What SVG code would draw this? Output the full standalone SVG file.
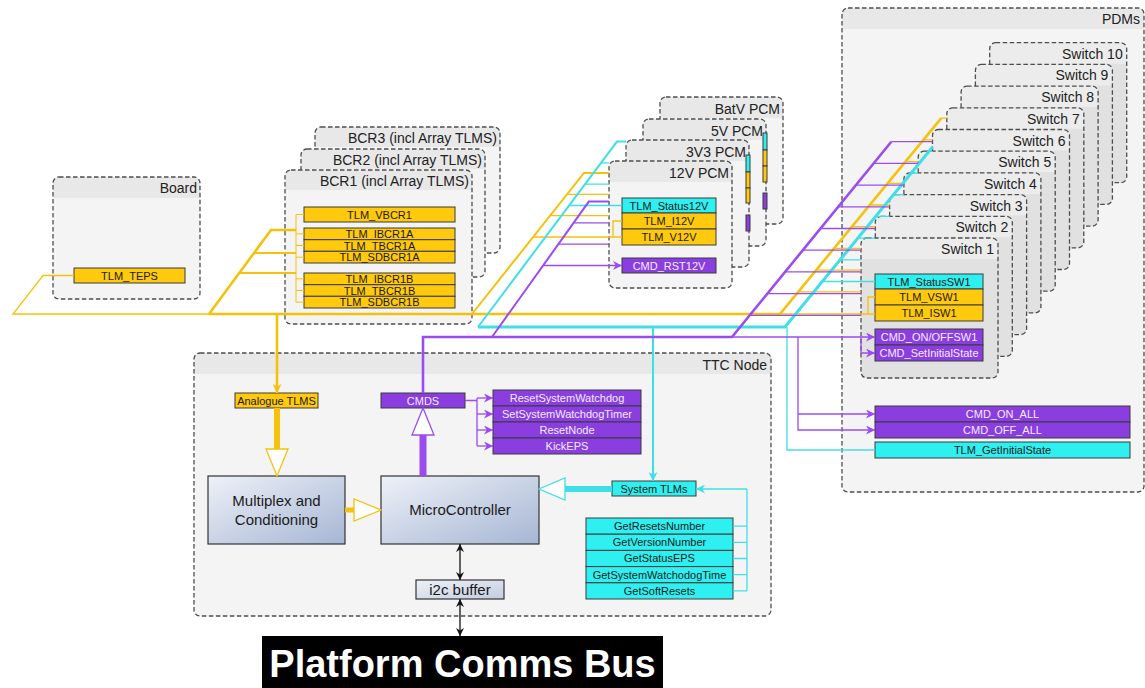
<svg xmlns="http://www.w3.org/2000/svg" width="1145" height="688" viewBox="0 0 1145 688">
<defs>
<style>
.ctr{fill:#f4f4f4}
.sw{fill:#e1e1e1}
.hd{fill:#e8e8e8}
.swh{fill:#ececec}
.ol{fill:none;stroke:#4d4d4d;stroke-width:1.3;stroke-dasharray:4.5 2.5}
.ttl{font-family:"Liberation Sans",Arial,sans-serif;font-size:14px;fill:#222;text-anchor:end}
.by{fill:#ffc90e;stroke:#3a3a3a;stroke-width:1}
.bc{fill:#2ef0f0;stroke:#3a3a3a;stroke-width:1}
.bp{fill:#8a3ee0;stroke:#3a3a3a;stroke-width:1}
.t{font-family:"Liberation Sans",Arial,sans-serif;font-size:11px;fill:#1a1a1a;text-anchor:middle}
.tw{fill:#f4ecff}
.blk{stroke:#333;stroke-width:1.2}
.lg{font-family:"Liberation Sans",Arial,sans-serif;font-size:15px;fill:#1a1a1a;text-anchor:middle}
.ly{fill:none;stroke:#f4c20d}
.lc{fill:none;stroke:#3fdfe8}
.lp{fill:none;stroke:#9a4cf0}
.lk{fill:none;stroke:#111;stroke-width:1.3}
.th{stroke-width:2.6}
.tn{stroke-width:1.3}
.hol{fill:#ffffff;stroke-width:1.3}
</style>
<marker id="ay" viewBox="0 0 10 10" refX="10" refY="5" markerWidth="9" markerHeight="9" markerUnits="userSpaceOnUse" orient="auto"><path d="M0,0 L10,5 L0,10 L3,5 z" fill="#f4c20d"/></marker>
<marker id="ac" viewBox="0 0 10 10" refX="10" refY="5" markerWidth="9" markerHeight="9" markerUnits="userSpaceOnUse" orient="auto"><path d="M0,0 L10,5 L0,10 L3,5 z" fill="#3fdfe8"/></marker>
<marker id="ap" viewBox="0 0 10 10" refX="10" refY="5" markerWidth="9" markerHeight="9" markerUnits="userSpaceOnUse" orient="auto"><path d="M0,0 L10,5 L0,10 L3,5 z" fill="#9a4cf0"/></marker>
<marker id="ak" viewBox="0 0 10 10" refX="10" refY="5" markerWidth="8" markerHeight="8" markerUnits="userSpaceOnUse" orient="auto-start-reverse"><path d="M0,0 L10,5 L0,10 L3,5 z" fill="#111"/></marker>
<linearGradient id="gb" x1="0" y1="0" x2="1" y2="1"><stop offset="0" stop-color="#eef1f8"/><stop offset="1" stop-color="#a6b6d4"/></linearGradient>
<linearGradient id="gi" x1="0" y1="0" x2="1" y2="1"><stop offset="0" stop-color="#eef1f7"/><stop offset="1" stop-color="#c3cde0"/></linearGradient>
<g id="swshape"><rect class="sw" width="137" height="140" rx="6"/><path class="swh" d="M0,21 V6 Q0,0 6,0 H131 Q137,0 137,6 V21 Z"/><rect class="ol" width="137" height="140" rx="6"/></g>
<g id="pcmshape"><rect class="ctr" width="123" height="127" rx="6"/><path class="hd" d="M0,21 V6 Q0,0 6,0 H117 Q123,0 123,6 V21 Z"/><rect class="ol" width="123" height="127" rx="6"/></g>
</defs>

<g id="board">
<rect class="ctr" x="53" y="177" width="147" height="122" rx="6"/>
<path class="hd" d="M53,198 V183 Q53,177 59,177 H194 Q200,177 200,183 V198 Z"/>
<rect class="ol" x="53" y="177" width="147" height="122" rx="6"/>
<text class="ttl" x="197" y="193">Board</text>
<g id="tlm_teps"><rect class="by" x="74" y="268" width="111" height="15"/><text class="t" x="129.5" y="279.5">TLM_TEPS</text></g>
</g>

<g id="bcr3">
<rect class="ctr" x="315" y="127" width="185" height="126" rx="6"/>
<path class="hd" d="M315,147 V133 Q315,127 321,127 H494 Q500,127 500,133 V147 Z"/>
<rect class="ol" x="315" y="127" width="185" height="126" rx="6"/>
<text class="ttl" x="497" y="143">BCR3 (incl Array TLMS)</text>
</g>
<g id="bcr2">
<rect class="ctr" x="301" y="149" width="184" height="128" rx="6"/>
<path class="hd" d="M301,169 V155 Q301,149 307,149 H479 Q485,149 485,155 V169 Z"/>
<rect class="ol" x="301" y="149" width="184" height="128" rx="6"/>
<text class="ttl" x="482" y="165">BCR2 (incl Array TLMS)</text>
</g>
<g id="bcr1">
<rect class="ctr" x="285" y="170" width="187" height="154" rx="6"/>
<path class="hd" d="M285,190 V176 Q285,170 291,170 H466 Q472,170 472,176 V190 Z"/>
<rect class="ol" x="285" y="170" width="187" height="154" rx="6"/>
<text class="ttl" x="469" y="186">BCR1 (incl Array TLMS)</text>
<g id="tlm_vbcr1"><rect class="by" x="304" y="207" width="151" height="15"/><text class="t" x="379.5" y="218.5">TLM_VBCR1</text></g>
<g id="tlm_ibcr1a"><rect class="by" x="304" y="228" width="151" height="11.7"/><text class="t" x="379.5" y="237.9">TLM_IBCR1A</text></g>
<g id="tlm_tbcr1a"><rect class="by" x="304" y="239.7" width="151" height="11.6"/><text class="t" x="379.5" y="249.5">TLM_TBCR1A</text></g>
<g id="tlm_sdbcr1a"><rect class="by" x="304" y="251.3" width="151" height="11.7"/><text class="t" x="379.5" y="261.2">TLM_SDBCR1A</text></g>
<g id="tlm_ibcr1b"><rect class="by" x="304" y="273" width="151" height="11.7"/><text class="t" x="379.5" y="282.9">TLM_IBCR1B</text></g>
<g id="tlm_tbcr1b"><rect class="by" x="304" y="284.7" width="151" height="11.6"/><text class="t" x="379.5" y="294.5">TLM_TBCR1B</text></g>
<g id="tlm_sdbcr1b"><rect class="by" x="304" y="296.3" width="151" height="11.7"/><text class="t" x="379.5" y="306.2">TLM_SDBCR1B</text></g>
</g>

<g id="pcm_batv" transform="translate(660,97)"><use href="#pcmshape"/><text class="ttl" x="120" y="17">BatV PCM</text></g>
<g id="pcm_5v" transform="translate(643,119)"><use href="#pcmshape"/><text class="ttl" x="120" y="17">5V PCM</text>
<rect class="bc" x="120" y="14" width="4" height="17"/><rect class="by" x="120" y="31" width="4" height="16"/><rect class="by" x="120" y="47" width="4" height="16"/><rect class="bp" x="120" y="74" width="4" height="16"/></g>
<g id="pcm_3v3" transform="translate(626,140)"><use href="#pcmshape"/><text class="ttl" x="120" y="17">3V3 PCM</text>
<rect class="bc" x="120" y="15" width="4" height="17"/><rect class="by" x="120" y="32" width="4" height="16"/><rect class="by" x="120" y="48" width="4" height="15"/><rect class="bp" x="120" y="75" width="4" height="16"/></g>
<g id="pcm_12v" transform="translate(609,161)"><use href="#pcmshape"/><text class="ttl" x="120" y="17">12V PCM</text></g>
<g id="tlm_status12v"><rect class="bc" x="622" y="198" width="94" height="15"/><text class="t" x="669" y="209.5">TLM_Status12V</text></g>
<g id="tlm_i12v"><rect class="by" x="622" y="213" width="94" height="16"/><text class="t" x="669" y="225">TLM_I12V</text></g>
<g id="tlm_v12v"><rect class="by" x="622" y="229" width="94" height="16"/><text class="t" x="669" y="241">TLM_V12V</text></g>
<g id="cmd_rst12v"><rect class="bp" x="622" y="258" width="94" height="15"/><text class="t tw" x="669" y="269.5">CMD_RST12V</text></g>

<g id="pdms">
<rect class="ctr" x="842" y="8" width="302" height="484" rx="6"/>
<path class="hd" d="M842,29 V14 Q842,8 848,8 H1138 Q1144,8 1144,14 V29 Z"/>
<rect class="ol" x="842" y="8" width="302" height="484" rx="6"/>
<text class="ttl" x="1140" y="24">PDMs</text>
<g id="cmd_on_all"><rect class="bp" x="875" y="406" width="255" height="16"/><text class="t tw" x="1002.5" y="418">CMD_ON_ALL</text></g>
<g id="cmd_off_all"><rect class="bp" x="875" y="422" width="255" height="16"/><text class="t tw" x="1002.5" y="434">CMD_OFF_ALL</text></g>
<g id="tlm_getinitialstate"><rect class="bc" x="875" y="442" width="255" height="16"/><text class="t" x="1002.5" y="454">TLM_GetInitialState</text></g>
</g>
<g id="switch10" transform="translate(989.7,42.7)"><use href="#swshape"/><text class="ttl" x="133" y="16">Switch 10</text></g>
<g id="switch9" transform="translate(975.4,64.4)"><use href="#swshape"/><text class="ttl" x="133" y="16">Switch 9</text></g>
<g id="switch8" transform="translate(961.1,86.1)"><use href="#swshape"/><text class="ttl" x="133" y="16">Switch 8</text></g>
<g id="switch7" transform="translate(946.8,107.8)"><use href="#swshape"/><text class="ttl" x="133" y="16">Switch 7</text></g>
<g id="switch6" transform="translate(932.5,129.5)"><use href="#swshape"/><text class="ttl" x="133" y="16">Switch 6</text></g>
<g id="switch5" transform="translate(918.2,151.2)"><use href="#swshape"/><text class="ttl" x="133" y="16">Switch 5</text></g>
<g id="switch4" transform="translate(903.9,172.9)"><use href="#swshape"/><text class="ttl" x="133" y="16">Switch 4</text></g>
<g id="switch3" transform="translate(889.6,194.6)"><use href="#swshape"/><text class="ttl" x="133" y="16">Switch 3</text></g>
<g id="switch2" transform="translate(875.3,216.3)"><use href="#swshape"/><text class="ttl" x="133" y="16">Switch 2</text></g>
<g id="switch1" transform="translate(861,238)"><use href="#swshape"/><text class="ttl" x="133" y="16">Switch 1</text>
<g id="tlm_statussw1"><rect class="bc" x="14" y="36" width="108" height="15"/><text class="t" x="68" y="47.5">TLM_StatusSW1</text></g>
<g id="tlm_vsw1"><rect class="by" x="14" y="51" width="108" height="16"/><text class="t" x="68" y="63">TLM_VSW1</text></g>
<g id="tlm_isw1"><rect class="by" x="14" y="67" width="108" height="16"/><text class="t" x="68" y="79">TLM_ISW1</text></g>
<g id="cmd_onoffsw1"><rect class="bp" x="14" y="91" width="108" height="16"/><text class="t tw" x="68" y="103">CMD_ON/OFFSW1</text></g>
<g id="cmd_setinitialstate"><rect class="bp" x="14" y="107" width="108" height="16"/><text class="t tw" x="68" y="119">CMD_SetInitialState</text></g>
</g>

<g id="ttc_node">
<rect class="ctr" x="194" y="353" width="577" height="263" rx="6"/>
<path class="hd" d="M194,374 V359 Q194,353 200,353 H765 Q771,353 771,359 V374 Z"/>
<rect class="ol" x="194" y="353" width="577" height="263" rx="6"/>
<text class="ttl" x="767" y="370">TTC Node</text>
<g id="analogue_tlms"><rect class="by" x="235" y="393" width="83" height="15"/><text class="t" x="276.5" y="404.5">Analogue TLMS</text></g>
<g id="cmds"><rect class="bp" x="381" y="393" width="84" height="15"/><text class="t tw" x="423" y="404.5">CMDS</text></g>
<g id="resetsystemwatchdog"><rect class="bp" x="493" y="390" width="148" height="16"/><text class="t tw" x="567" y="402">ResetSystemWatchdog</text></g>
<g id="setsystemwatchdogtimer"><rect class="bp" x="493" y="406" width="148" height="16"/><text class="t tw" x="567" y="418">SetSystemWatchdogTimer</text></g>
<g id="resetnode"><rect class="bp" x="493" y="422" width="148" height="16"/><text class="t tw" x="567" y="434">ResetNode</text></g>
<g id="kickeps"><rect class="bp" x="493" y="438" width="148" height="16"/><text class="t tw" x="567" y="450">KickEPS</text></g>
<g id="multiplex"><rect x="208" y="476" width="137" height="68" fill="url(#gb)" class="blk"/><text class="lg" x="276.5" y="506">Multiplex and</text><text class="lg" x="276.5" y="525">Conditioning</text></g>
<g id="microcontroller"><rect x="381" y="476" width="158" height="68" fill="url(#gb)" class="blk"/><text class="lg" x="460" y="515">MicroController</text></g>
<g id="system_tlms"><rect class="bc" x="612" y="481" width="84" height="15"/><text class="t" x="654" y="492.5">System TLMs</text></g>
<g id="getresetsnumber"><rect class="bc" x="586" y="518" width="147" height="16.2"/><text class="t" x="659.5" y="530">GetResetsNumber</text></g>
<g id="getversionnumber"><rect class="bc" x="586" y="534.2" width="147" height="16.2"/><text class="t" x="659.5" y="546.2">GetVersionNumber</text></g>
<g id="getstatuseps"><rect class="bc" x="586" y="550.4" width="147" height="16.2"/><text class="t" x="659.5" y="562.4">GetStatusEPS</text></g>
<g id="getsystemwatchodogtime"><rect class="bc" x="586" y="566.6" width="147" height="16.2"/><text class="t" x="659.5" y="578.6">GetSystemWatchodogTime</text></g>
<g id="getsoftresets"><rect class="bc" x="586" y="582.8" width="147" height="16.2"/><text class="t" x="659.5" y="594.8">GetSoftResets</text></g>
<g id="i2c_buffer"><rect x="416" y="580" width="88" height="19" fill="url(#gi)" class="blk"/><text class="lg" x="460" y="595">i2c buffer</text></g>
</g>

<g id="platform_comms_bus">
<rect x="262" y="636" width="401" height="52" fill="#000"/>
<text x="462.5" y="677" font-family="Liberation Sans, Arial, sans-serif" font-size="38" font-weight="bold" fill="#fff" text-anchor="middle">Platform Comms Bus</text>
</g>

<g id="connectors">
<!-- yellow -->
<path class="ly tn" d="M74,275.5 H43 L13,314 H209"/>
<path class="ly th" d="M209,314 L271,230 H296"/>
<path class="ly" stroke-width="2" d="M254,253 H296 M239.3,273 H296"/>
<path class="ly" stroke="#f2c94c" stroke-width="1" d="M296,214.5 V302.2 M296,214.5 H304 M296,233.8 H304 M296,245.5 H304 M296,257.2 H304 M296,278.8 H304 M296,290.5 H304 M296,302.2 H304"/>
<path class="ly th" d="M209,314 H780 L941.3,118.2"/>
<path class="ly th" d="M277,314 V393" marker-end="url(#ay)"/>
<path class="ly" stroke-width="2" d="M472,314 L584,173 H609"/>
<path class="ly tn" d="M567,194.4 H609 M550,215.7 H609 M533,237 H622 M613,237 V221 H622"/>
<path class="ly tn" d="M780,314 H875 M868,314 V297 H875"/>
<path class="ly tn" d="M798.3,291.8 H861 M816.2,270.1 H861 M834.1,248.4 H861 M851.9,226.7 H875.3 M869.8,205 H889.6 M887.7,183.3 H903.9 M905.6,161.6 H918.2 M923.5,139.9 H932.5 M941.3,118.2 H946.8"/>
<path class="ly" stroke-width="6" d="M277,408 V451"/>
<polygon class="ly hol" points="266,449 288,449 277,476"/>
<path class="ly" stroke-width="5" d="M345,510 H356"/>
<polygon class="ly hol" points="354,499 354,521 381,510"/>
<!-- cyan -->
<path class="lc" stroke-width="3" d="M478,327 H785 L932.6,147"/>
<path class="lc" stroke-width="2" d="M653,327 V481" marker-end="url(#ac)"/>
<path class="lc" stroke-width="2" d="M478,327 L617,141.6 H626"/>
<path class="lc tn" d="M569.1,205.5 H622 M585.1,184.2 H609 M601.1,162.9 H609"/>
<path class="lc tn" d="M822.3,281.5 H875 M840.1,259.8 H861 M857.9,238.1 H875.3 M875.7,216.4 H889.6 M893.5,194.7 H903.9 M911.3,173 H918.2 M929.1,151.3 H932.5"/>
<path class="lc tn" d="M787,327 V450 H875"/>
<path class="lc tn" d="M733,526.1 H747 M733,542.3 H747 M733,558.5 H747 M733,574.7 H747 M733,590.9 H747 M747,590.9 V489"/>
<path class="lc tn" d="M747,489 H696" marker-end="url(#ac)"/>
<path class="lc" stroke-width="6" d="M612,489 H563"/>
<polygon class="lc hol" points="565,478 565,500 539,489"/>
<!-- purple -->
<path class="lp th" d="M423,393 V337 H732 L891.3,141.7"/>
<path class="lp" stroke-width="2" d="M492,337 L588.8,201.6 H609"/>
<path class="lp tn" d="M543.1,265.5 H622" marker-end="url(#ap)"/>
<path class="lp tn" d="M558.4,244.2 H609 M573.6,222.9 H609"/>
<path class="lp tn" d="M732,337 H875" marker-end="url(#ap)"/>
<path class="lp tn" d="M861,337 V353 H875" marker-end="url(#ap)"/>
<path class="lp tn" d="M749.7,315.3 H861 M767.4,293.6 H861 M785.1,271.9 H861 M802.8,250.2 H861 M820.5,228.5 H875.3 M838.2,206.8 H889.6 M855.9,185.1 H903.9 M873.6,163.4 H918.2 M891.3,141.7 H932.5"/>
<path class="lp tn" d="M798,337 V430 H875" marker-end="url(#ap)"/>
<path class="lp tn" d="M798,414 H875" marker-end="url(#ap)"/>
<path class="lp tn" d="M465,400.5 H477 M477,398 V446"/>
<path class="lp tn" d="M477,398 H493" marker-end="url(#ap)"/>
<path class="lp tn" d="M477,414 H493" marker-end="url(#ap)"/>
<path class="lp tn" d="M477,430 H493" marker-end="url(#ap)"/>
<path class="lp tn" d="M477,446 H493" marker-end="url(#ap)"/>
<path class="lp" stroke-width="7" d="M423,476 V433"/>
<polygon class="lp hol" points="412,435 434,435 423,408"/>
<!-- black -->
<path class="lk" d="M460,544 V580" marker-start="url(#ak)" marker-end="url(#ak)"/>
<path class="lk" d="M460,599 V636" marker-start="url(#ak)" marker-end="url(#ak)"/>
</g>
</svg>
